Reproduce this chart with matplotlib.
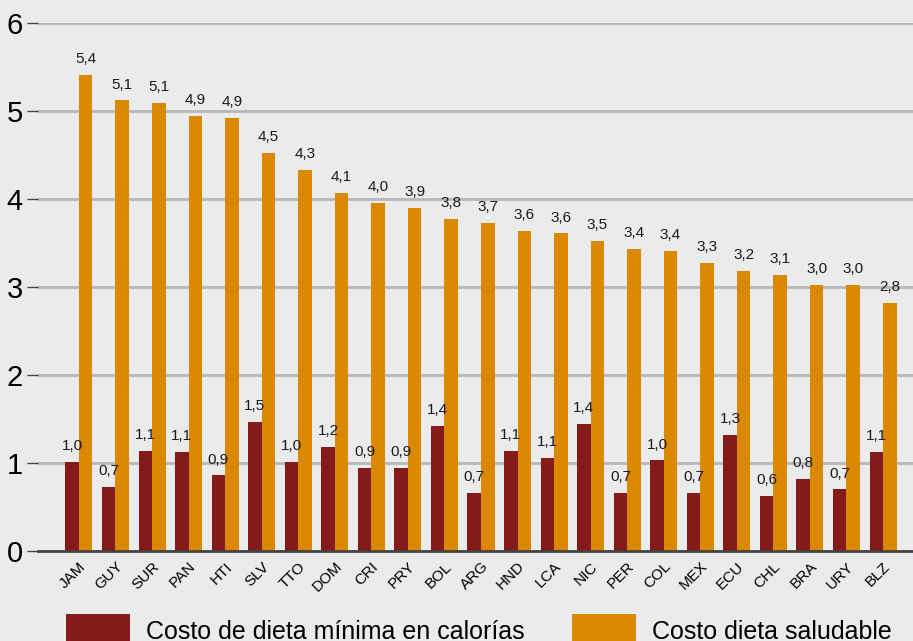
import matplotlib.pyplot as plt
import numpy as np

# Datos
paises = ["JAM", "GUY", "SUR", "PAN", "HTI", "SLV", "TTO", "DOM", "CRI", "PRY", "BOL", "ARG",
          "HND", "LCA", "NIC", "PER", "COL", "MEX", "ECU", "CHL", "BRA", "URY", "BLZ"]
costo_minimo = [1.01, 0.73, 1.14, 1.13, 0.86, 1.47, 1.01, 1.18, 0.94, 0.94, 1.42, 0.66,
                1.14, 1.06, 1.44, 0.66, 1.03, 0.66, 1.32, 0.63, 0.82, 0.70, 1.13]
costo_saludable = [5.41, 5.12, 5.09, 4.94, 4.92, 4.52, 4.33, 4.07, 3.96, 3.90, 3.77, 3.73,
                   3.64, 3.61, 3.52, 3.43, 3.41, 3.27, 3.18, 3.14, 3.02, 3.02, 2.82]

rojo = "#841a1a"
naranja = "#d98800"
fondo = "#ebebeb"

plt.rcParams["font.family"] = ["Liberation Sans", "DejaVu Sans"]

fig = plt.figure(figsize=(9.13, 6.41), dpi=100, facecolor=fondo)
ax = fig.add_axes([38 / 913, 1 - 551 / 641, 1 - 38 / 913, (551 - 23) / 641])
ax.set_facecolor(fondo)

x = np.arange(len(paises))
ancho = 0.37
b1 = ax.bar(x - ancho / 2, costo_minimo, ancho, color=rojo, label="Costo de dieta mínima en calorías", zorder=3)
b2 = ax.bar(x + ancho / 2, costo_saludable, ancho, color=naranja, label="Costo dieta saludable", zorder=3)

for barras, vals in [(b1, costo_minimo), (b2, costo_saludable)]:
    for b, v in zip(barras, vals):
        ax.text(b.get_x() + b.get_width() / 2, v + 0.1, f"{v:.1f}".replace(".", ","),
                ha="center", va="bottom", fontsize=11, color="#1a1a1a")

ax.set_xlim(-1.12, 22.82)
ax.set_ylim(0, 6)
ax.set_yticks(range(7))
ax.tick_params(axis="y", labelsize=21, length=8, width=1, color="#444444", pad=3)
ax.set_xticks(x)
ax.set_xticklabels(paises, rotation=45, ha="right", rotation_mode="anchor", fontsize=11)
ax.tick_params(axis="x", length=0, pad=6)
ax.grid(axis="y", color="#b4b8b8", linewidth=2, zorder=0)
for s in ["top", "right", "left"]:
    ax.spines[s].set_visible(False)
ax.spines["bottom"].set_color("#444444")
ax.spines["bottom"].set_linewidth(2)
ax.spines["bottom"].set_zorder(4)

fig.legend(loc="upper left", bbox_to_anchor=(66 / 913, 1 - 614 / 641), ncol=2, frameon=False,
           fontsize=18, handlelength=2.56, handleheight=1.7, columnspacing=1.9,
           handletextpad=0.64, borderpad=0, borderaxespad=0)

fig.savefig("out.png", dpi=100, facecolor=fondo)
